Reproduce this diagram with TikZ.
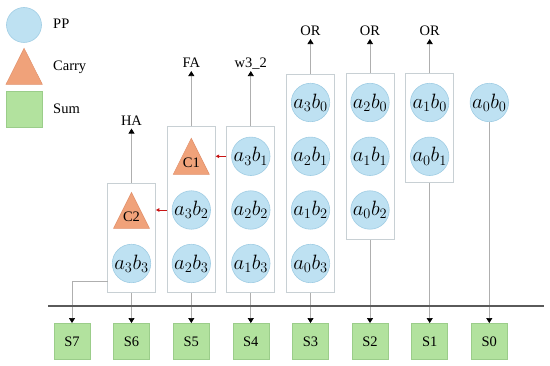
\documentclass[tikz,border=0pt]{standalone}
\usepackage{fontspec}
\setmainfont{Liberation Serif}
\usetikzlibrary{arrows.meta}
\definecolor{ppfill}{RGB}{190,225,242}
\definecolor{ppdraw}{RGB}{160,205,228}
\definecolor{cyfill}{RGB}{240,162,122}
\definecolor{cydraw}{RGB}{225,145,108}
\definecolor{smfill}{RGB}{178,226,158}
\definecolor{smdraw}{RGB}{155,205,138}
\definecolor{boxdraw}{RGB}{200,208,212}
\definecolor{conncol}{RGB}{175,175,175}
\definecolor{busline}{RGB}{90,90,90}
\definecolor{redarr}{RGB}{200,20,20}
\tikzset{
  pp/.style={circle,fill=ppfill,draw=ppdraw,line width=0.6pt,minimum size=35pt,inner sep=0pt,font=\fontsize{20}{22}\selectfont},
  colbox/.style={rectangle,draw=boxdraw,fill=white,line width=0.7pt,minimum width=48pt,inner sep=0pt},
  sumbox/.style={rectangle,fill=smfill,draw=smdraw,line width=0.5pt,minimum width=36pt,minimum height=36pt,inner sep=0pt,font=\fontsize{14.5}{16}\selectfont},
  cyshape/.style={fill=cyfill,draw=cydraw,line width=0.5pt},
  lbl/.style={inner sep=1.5pt,text height=1.6ex,text depth=0.3ex,font=\fontsize{14.5}{16}\selectfont},
  ctext/.style={inner sep=0pt,font=\fontsize{14.5}{16}\selectfont},
  conn/.style={draw=conncol,line width=0.7pt},
  arr/.style={conn,-{Triangle[width=6pt,length=5pt,color=black]}},
  redarrow/.style={draw=redarr,line width=0.8pt,-{Triangle[width=3.5pt,length=3.5pt]}},
}
\begin{document}
\begin{tikzpicture}[x=1pt,y=-1pt]
\useasboundingbox (0,0) rectangle (550,366);
% legend
\node[pp] (legpp) at (24,25) {};
\node[ctext,anchor=west] (legppt) at (53,24) {PP};
\path[cyshape] (6,84.3) -- (24.1,48.3) -- (42.3,84.3) -- cycle;
\coordinate (legcy) at (24,66);
\node[ctext,anchor=west] (legcyt) at (53,67.3) {Carry};
\node[sumbox] (legsm) at (24.1,108.8) {};
\node[ctext,anchor=west] (legsmt) at (53,108.3) {Sum};
% bus line
\coordinate (busL) at (48,306);
\coordinate (busR) at (543.5,306);
% column boxes
\node[colbox,minimum height=109.4pt] (b6) at (131.5,238) {};
\node[colbox,minimum height=166pt] (b5) at (191.3,209.7) {};
\node[colbox,minimum height=166pt] (b4) at (250.8,209.7) {};
\node[colbox,minimum height=218.4pt] (b3) at (310.5,183.5) {};
\node[colbox,minimum height=165.6pt] (b2) at (370,156.5) {};
\node[colbox,minimum height=109pt] (b1) at (429.7,128.2) {};
% partial products
\node[pp] (a3b3) at (131.5,263.5) {$a_3b_3$};
\node[pp] (a3b2) at (191.3,210) {$a_3b_2$};
\node[pp] (a2b3) at (191.3,263.5) {$a_2b_3$};
\node[pp] (a3b1) at (250.8,156.3) {$a_3b_1$};
\node[pp] (a2b2) at (250.8,210) {$a_2b_2$};
\node[pp] (a1b3) at (250.8,263.5) {$a_1b_3$};
\node[pp] (a3b0) at (310.5,102.5) {$a_3b_0$};
\node[pp] (a2b1) at (310.5,156.3) {$a_2b_1$};
\node[pp] (a1b2) at (310.5,210) {$a_1b_2$};
\node[pp] (a0b3) at (310.5,263.5) {$a_0b_3$};
\node[pp] (a2b0) at (370,102.5) {$a_2b_0$};
\node[pp] (a1b1) at (370,156.3) {$a_1b_1$};
\node[pp] (a0b2) at (370,210) {$a_0b_2$};
\node[pp] (a1b0) at (429.7,102.5) {$a_1b_0$};
\node[pp] (a0b1) at (429.7,156.3) {$a_0b_1$};
\node[pp] (a0b0) at (489.3,102.5) {$a_0b_0$};
% carries
\path[cyshape] (113.5,228.5) -- (131.5,192.5) -- (149.5,228.5) -- cycle;
\node[ctext] (c2) at (131.5,216.5) {C2};
\path[cyshape] (173.3,174.3) -- (191.3,138.3) -- (209.3,174.3) -- cycle;
\node[ctext] (c1) at (191.3,162.3) {C1};
% red arrows
\draw[redarrow] (b4.west |- a3b1) -- (b5.east |- a3b1);
\draw[redarrow] (b5.west |- a3b2) -- (b6.east |- a3b2);
% top labels
\node[lbl] (lha) at (131.5,122.5) {HA};
\node[lbl] (lfa) at (191.3,65) {FA};
\node[lbl] (lw) at (250.8,65) {w3\_2};
\node[lbl] (lor3) at (310.5,33) {OR};
\node[lbl] (lor2) at (370,33) {OR};
\node[lbl] (lor1) at (429.7,33) {OR};
\draw[arr] (b6.north) -- (lha.south);
\draw[arr] (b5.north) -- (lfa.south);
\draw[arr] (b4.north) -- (lw.south);
\draw[arr] (b3.north) -- (lor3.south);
\draw[arr] (b2.north) -- (lor2.south);
\draw[arr] (b1.north) -- (lor1.south);
% sum boxes
\node[sumbox] (s7) at (72,341.3) {S7};
\node[sumbox] (s6) at (131.5,341.3) {S6};
\node[sumbox] (s5) at (191.3,341.3) {S5};
\node[sumbox] (s4) at (250.8,341.3) {S4};
\node[sumbox] (s3) at (310.5,341.3) {S3};
\node[sumbox] (s2) at (370,341.3) {S2};
\node[sumbox] (s1) at (429.7,341.3) {S1};
\node[sumbox] (s0) at (489.3,341.3) {S0};
% down connectors
\coordinate (c7) at (107.5,281.7);
\draw[arr] (c7) -| (s7.north);
\draw[arr] (b6.south) -- (s6.north);
\draw[arr] (b5.south) -- (s5.north);
\draw[arr] (b4.south) -- (s4.north);
\draw[arr] (b3.south) -- (s3.north);
\draw[arr] (b2.south) -- (s2.north);
\draw[arr] (b1.south) -- (s1.north);
\draw[arr] (a0b0.south) -- (s0.north);
\draw[busline,line width=1.4pt] (busL) -- (busR);
\end{tikzpicture}
\end{document}
